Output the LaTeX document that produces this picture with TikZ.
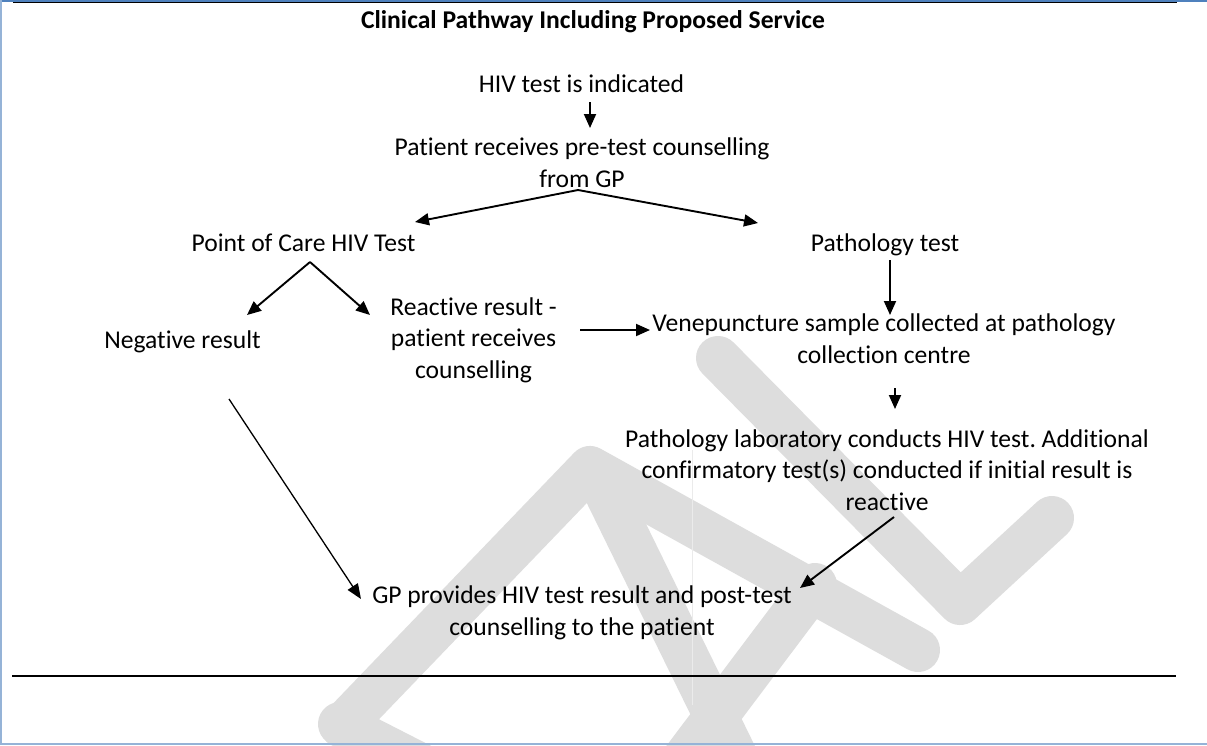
\documentclass[tikz,border=0pt]{standalone}
\usepackage{fontspec}
\setmainfont{Carlito}[Ligatures=CommonOff]
\usetikzlibrary{arrows.meta,calc}
\definecolor{frameblue}{RGB}{79,129,189}
\definecolor{framelight}{RGB}{149,179,215}
\definecolor{markgray}{RGB}{221,221,221}
\frenchspacing
\begin{document}
\begin{tikzpicture}[x=1pt,y=-1pt,
  txt/.style={anchor=base,inner sep=0pt,align=center,font=\fontsize{25.6}{31.5}\selectfont},
  arr/.style={line width=1.9pt,-{Triangle[length=14pt,width=12pt]}},
  thinarr/.style={line width=1.3pt,-{Triangle[length=15pt,width=12pt]}},
  markstroke/.style={markgray,line width=44pt,line cap=round,line join=round}]
\useasboundingbox (0,0) rectangle (1207,745);
\fill[white] (0,0) rectangle (1207,745);
% faint watermark letters behind the chart
\begin{scope}
\clip (0,0) rectangle (1207,745);
\draw[markstroke] (718,358) -- (960,603) -- (1052,518);
\draw[markstroke] (342,726) -- (590,468) -- (918,650);
\draw[markstroke] (600,480) -- (752,790);
\draw[markstroke] (815,585) -- (672,775);
\draw[markstroke] (340,724) -- (430,770);
\draw[black!8,line width=0.6pt] (692,450) -- (692,705);
\end{scope}
% page frame
\draw[frameblue,line width=2.2pt] (0,1.1) -- (1207,1.1);
\draw[framelight,line width=2pt] (1,0) -- (1,745);
\draw[framelight,line width=2pt] (0,744) -- (1207,744);
\draw[black,line width=1.3pt] (13,2.8) -- (1177,2.8);
\draw[black,line width=1.5pt] (12,676) -- (1176,676);
% texts (base anchor = baseline of the last line)
\node[txt,font=\fontsize{25.6}{31.5}\selectfont\bfseries] (title) at (593,28) {Clinical Pathway Including Proposed Service};
\node[txt] (hiv) at (581.5,92) {HIV test is indicated};
\node[txt] (pre) at (582,187) {Patient receives pre-test counselling\\from GP};
\node[txt] (poc) at (303.5,251) {Point of Care HIV Test};
\node[txt] (path) at (885,251) {Pathology test};
\node[txt] (neg) at (182.5,348) {Negative result};
\node[txt] (react) at (473.5,378) {Reactive result -\\patient receives\\counselling};
\node[txt] (ven) at (884,363) {Venepuncture sample collected at pathology\\collection centre};
\node[txt] (lab) at (887,510) {Pathology laboratory conducts HIV test. Additional\\confirmatory test(s) conducted if initial result is\\reactive};
\node[txt] (gp) at (582,635) {GP provides HIV test result and post-test\\counselling to the patient};
% connectors
\draw[arr] ($(hiv.base)+(8.5,10)$) -- ($(pre.base)+(8,-59)$);
\draw[arr] ($(pre.base)+(-4,3)$) -- ($(poc.base)+(111.5,-29)$);
\draw[arr] ($(pre.base)+(-4,3)$) -- ($(path.base)+(-127,-28)$);
\draw[arr] ($(poc.base)+(6.5,11)$) -- ($(neg.base)+(64.5,-33)$);
\draw[arr] ($(poc.base)+(6.5,11)$) -- ($(react.base)+(-103.5,-63)$);
\draw[arr] ($(react.base)+(106.5,-48)$) -- ($(ven.base)+(-234,-33)$);
\draw[arr] ($(path.base)+(5,9)$) -- ($(ven.base)+(6,-48)$);
\draw[arr] ($(ven.base)+(11,25)$) -- ($(lab.base)+(8,-101)$);
\draw[arr] ($(lab.base)+(7,7)$) -- ($(gp.base)+(218,-47)$);
\draw[thinarr] ($(neg.base)+(46.5,51)$) -- ($(gp.base)+(-221,-36)$);
\end{tikzpicture}
\end{document}
